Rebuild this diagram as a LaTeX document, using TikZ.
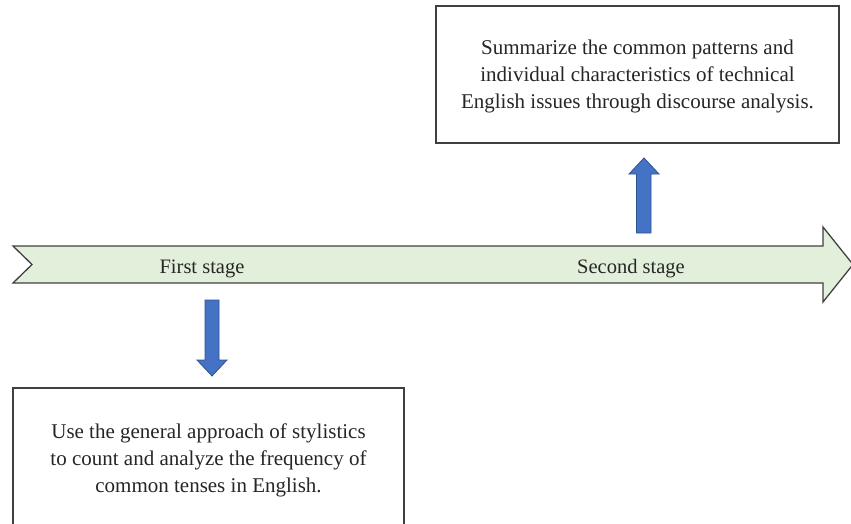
\documentclass[tikz,border=0pt]{standalone}
\usepackage{fontspec}
\setmainfont{Liberation Serif}
\definecolor{bandfill}{HTML}{E2EFDA}
\definecolor{bandline}{HTML}{404040}
\definecolor{bluefill}{HTML}{4472C4}
\definecolor{blueline}{HTML}{2F528F}
\tikzset{
  band/.style={fill=bandfill, draw=bandline, line width=1.3pt, line join=miter},
  bluearrow/.style={fill=bluefill, draw=blueline, line width=0.8pt},
  textbox/.style={draw=bandline, line width=1.3pt, fill=white},
  boxtext/.style={align=center, font=\fontsize{21}{27}\selectfont, text=black!85},
  stagelabel/.style={font=\fontsize{20.5}{24}\selectfont, text=black!85}
}
\begin{document}
\begin{tikzpicture}[x=1pt,y=-1pt]
  \useasboundingbox (0,0) rectangle (851,524);
  \clip (0,0) rectangle (851,524);

  % timeline band with notched tail and arrow head
  \draw[band] (13,246) -- (823,246) -- (823,227) -- (853,264.5) -- (823,302)
    -- (823,283) -- (13,283) -- (32,264.5) -- cycle;

  % stage labels
  \node[stagelabel] (s1) at (202,268.5) {First stage};
  \node[stagelabel] (s2) at (631,268.5) {Second stage};

  % upper result box
  \draw[textbox] (436,6) rectangle (839,143);
  \node[boxtext] (t2) at (637.5,76) {Summarize the common patterns and\\
    individual characteristics of technical\\
    English issues through discourse analysis.};

  % lower result box (runs past the bottom edge)
  \draw[textbox] (13,388) rectangle (404,540);
  \node[boxtext] (t1) at (208.5,460) {Use the general approach of stylistics\\
    to count and analyze the frequency of\\
    common tenses in English.};

  % blue arrow: first stage down to its box
  \draw[bluearrow] (205,300) -- (219,300) -- (219,360) -- (227,360) -- (212,376)
    -- (197,360) -- (205,360) -- cycle;

  % blue arrow: second stage up to its box
  \draw[bluearrow] (636.5,233) -- (651,233) -- (651,174) -- (659,174) -- (644,158)
    -- (629,174) -- (636.5,174) -- cycle;
\end{tikzpicture}
\end{document}
